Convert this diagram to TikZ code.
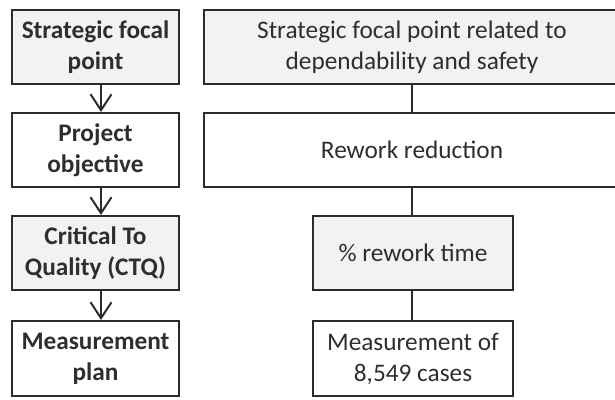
\documentclass[tikz,border=0pt]{standalone}
\usepackage{fontspec}
\setmainfont{Carlito}
\usetikzlibrary{arrows.meta}
\definecolor{linec}{HTML}{2B2B2B}
\definecolor{textc}{HTML}{2E2E2E}
\definecolor{fillc}{HTML}{F2F2F2}
\begin{document}
\begin{tikzpicture}[x=1pt,y=-1pt,
  basebox/.style={draw=linec, line width=2pt, inner sep=0pt, align=center, text=textc,
    font=\fontsize{25.3}{31}\selectfont},
  lbox/.style={basebox, font=\fontsize{25.3}{31}\selectfont\bfseries, minimum width=167pt, minimum height=74pt},
  wbox/.style={basebox, minimum width=416pt, minimum height=74pt},
  sbox/.style={basebox, minimum width=200pt, minimum height=74pt},
  gray/.style={fill=fillc},
  arr/.style={draw=linec, line width=2pt, -{Straight Barb[length=16pt,width=21pt]}},
  conn/.style={draw=linec, line width=2pt}]
\useasboundingbox (0,0) rectangle (615,399);
\node[lbox,gray] (l1) at (95.5,47) {Strategic focal\\point};
\node[lbox] (l2) at (95.5,150) {Project\\objective};
\node[lbox,gray] (l3) at (95.5,253) {Critical To\\Quality (CTQ)};
\node[lbox,minimum height=75pt] (l4) at (95.5,358.5) {Measurement\\plan};
\node[wbox,gray] (r1) at (412,47) {Strategic focal point related to\\dependability and safety};
\node[wbox] (r2) at (412,150) {Rework reduction};
\node[sbox,gray] (r3) at (413,253) {\% rework time};
\node[sbox,minimum height=75pt] (r4) at (413,358.5) {Measurement of\\8,549 cases};
\draw[arr] ([xshift=5.5pt]l1.south) -- ([xshift=5.5pt]l2.north);
\draw[arr] ([xshift=5.5pt]l2.south) -- ([xshift=5.5pt]l3.north);
\draw[arr] ([xshift=5.5pt]l3.south) -- ([xshift=5.5pt]l4.north);
\draw[conn] (r1.south) -- (r2.north);
\draw[conn] (r2.south) -- (r2.south |- r3.north);
\draw[conn] (r2.south |- r3.south) -- (r2.south |- r4.north);
\end{tikzpicture}
\end{document}
